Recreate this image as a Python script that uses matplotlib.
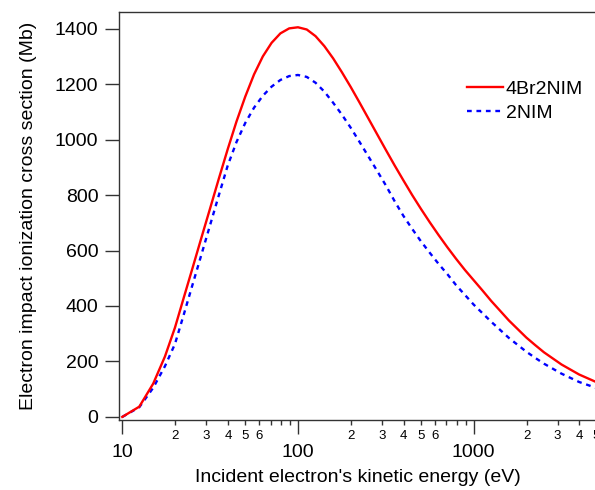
import math
import matplotlib
matplotlib.use("Agg")
import matplotlib.pyplot as plt
from matplotlib.ticker import LogLocator, FuncFormatter, FixedLocator, NullLocator

plt.rcParams['font.family'] = ['Liberation Sans', 'DejaVu Sans']

# Incident electron energy (eV)
energy = [10, 12.5, 15, 17.5, 19.95, 22.39, 25.12, 28.18, 31.62, 35.48, 39.81, 44.67,
          50.12, 56.23, 63.10, 70.79, 79.43, 89.13, 100, 112.2, 125.9, 141.3, 158.5,
          177.8, 199.5, 223.9, 251.2, 281.8, 316.2, 354.8, 398.1, 446.7, 501.2, 562.3,
          631.0, 707.9, 794.3, 891.3, 1000, 1122, 1259, 1413, 1585, 1778, 1995, 2239,
          2512, 2818, 3162, 3548, 3981, 4467, 5012]

# Cross sections (Mb)
sigma_4Br2NIM = [0, 37, 120, 218, 322, 430, 537, 645, 752, 860, 965, 1065,
                 1155, 1235, 1300, 1349, 1383, 1401, 1405, 1397, 1373, 1337, 1293,
                 1243, 1190, 1134, 1077, 1020, 963, 907, 853, 800, 750, 702,
                 656, 612, 570, 530, 493, 456, 418, 383, 348, 317, 286, 259,
                 233, 211, 189, 171, 153, 139, 125]

sigma_2NIM = [0, 35, 105, 183, 263, 369, 477, 584, 692, 800, 906, 991,
              1060, 1115, 1158, 1191, 1215, 1229, 1233, 1226, 1205, 1173, 1133,
              1090, 1043, 992, 940, 888, 835, 778, 725, 678, 633, 592,
              552, 515, 475, 440, 405, 374, 343, 314, 285, 260, 235, 213,
              192, 174, 156, 141, 126, 115, 104]

series_labels = ["4Br2NIM", "2NIM"]
y_ticks = [0, 200, 400, 600, 800, 1000, 1200, 1400]
x_major = [10, 100, 1000]

W, H = 595, 490
fig = plt.figure(figsize=(W / 100, H / 100), dpi=100)
left, right, top, bottom = 119.3, 596.5, 12.3, 419.7
ax = fig.add_axes([left / W, 1 - bottom / H, (right - left) / W, (bottom - top) / H])

ax.plot(energy, sigma_4Br2NIM, color='#ff0000', lw=1.7, label=series_labels[0], zorder=3)
ax.plot(energy, sigma_2NIM, color='#0000ff', lw=1.7, dashes=(2.0, 2.0),
        label=series_labels[1], zorder=2)

ax.set_xscale('log')
ax.set_xlim(9.62, 5000)
ax.set_ylim(-10, 1459)

ax.spines['right'].set_visible(False)
for s in ['left', 'bottom', 'top']:
    ax.spines[s].set_linewidth(1.0)
    ax.spines[s].set_color('#333333')

ax.set_yticks(y_ticks)
ax.yaxis.set_minor_locator(NullLocator())
ax.xaxis.set_major_locator(FixedLocator(x_major))
ax.xaxis.set_major_formatter(FuncFormatter(lambda v, p: f"{int(round(v))}"))
ax.xaxis.set_minor_locator(LogLocator(base=10, subs=[2, 3, 4, 5, 6, 7, 8, 9], numticks=20))


def minor_fmt(v, p):
    d = int(round(v / 10 ** math.floor(math.log10(v) + 1e-9)))
    return str(d) if d in (2, 3, 4, 5, 6) else ""


ax.xaxis.set_minor_formatter(FuncFormatter(minor_fmt))

ax.tick_params(axis='both', which='major', direction='out', length=10, width=1.0,
               color='#333333', labelsize=14)
ax.tick_params(axis='y', which='major', pad=5)
ax.tick_params(axis='x', which='major', pad=7.5)
ax.tick_params(axis='x', which='minor', direction='out', length=3.6, width=1.0,
               color='#333333', labelsize=9.5, pad=4)
ax.tick_params(axis='both', which='both', top=False, right=False)

ax.set_xlabel("Incident electron's kinetic energy (eV)", fontsize=14, labelpad=6)
ax.set_ylabel("Electron impact ionization cross section (Mb)", fontsize=14, labelpad=13)

ax.legend(loc='upper left', bbox_to_anchor=(467 / W, 1 - 80.5 / H),
          bbox_transform=fig.transFigure, frameon=False, fontsize=14,
          handlelength=1.85, handletextpad=0.15, borderpad=0, borderaxespad=0,
          labelspacing=0.3)

fig.savefig("out.png", dpi=100)
